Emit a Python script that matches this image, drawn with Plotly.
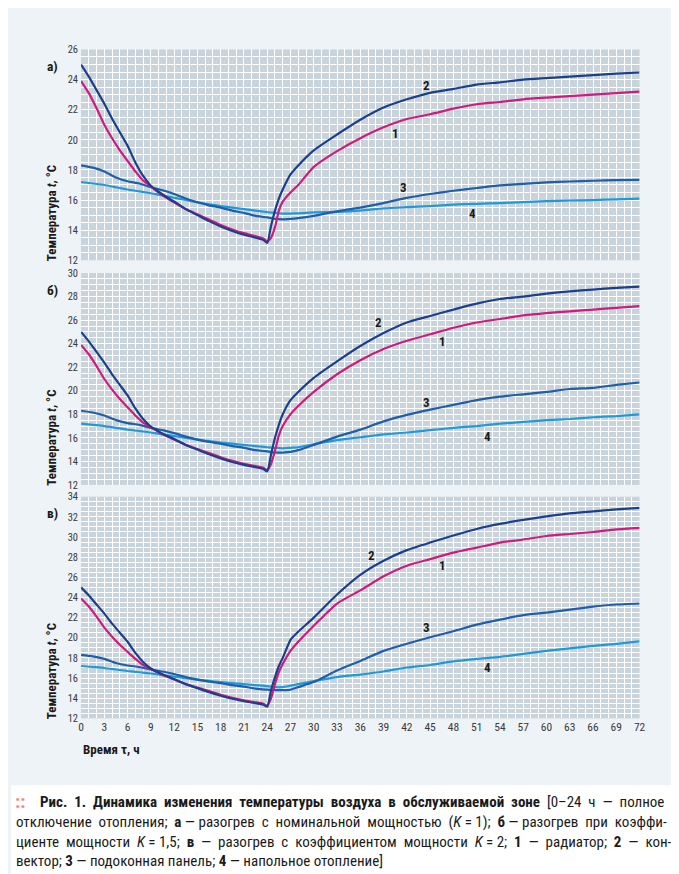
import plotly.graph_objects as go

W, H = 679, 874

# ---------------- data ----------------
# cooling phase (0–24 h), identical for all three panels
t_cool_fast = [0, 1, 2, 3, 4, 5, 6, 7, 8, 9, 10, 11, 12, 13.5, 15, 16.5, 18, 19.5, 21, 22.5, 23.5, 24]
cool_1 = [23.9, 23.1, 22.1, 21.0, 20.1, 19.3, 18.6, 17.9, 17.3, 16.9, 16.5, 16.15, 15.85, 15.4, 15.05, 14.7, 14.35, 14.05, 13.8, 13.6, 13.45, 13.25]
cool_2 = [25.0, 24.2, 23.3, 22.4, 21.4, 20.5, 19.6, 18.5, 17.6, 16.95, 16.55, 16.2, 15.9, 15.4, 15.0, 14.6, 14.25, 13.95, 13.7, 13.5, 13.35, 13.15]
t_cool_slow = [0, 1.5, 3, 4.5, 6, 7.5, 9, 10.5, 12, 13.5, 15, 16.5, 18, 19.5, 21, 22.5, 24]
cool_3 = [18.3, 18.15, 17.9, 17.5, 17.25, 17.1, 16.85, 16.65, 16.4, 16.1, 15.85, 15.65, 15.5, 15.3, 15.15, 14.95, 14.85]
cool_4 = [17.2, 17.1, 17.0, 16.85, 16.7, 16.58, 16.45, 16.3, 16.15, 16.0, 15.85, 15.72, 15.6, 15.5, 15.4, 15.3, 15.2]

# heating phase (after 24 h)
t_heat_fast = [24.5, 25, 25.5, 26, 27, 28, 30, 33, 36, 39, 42, 45, 48, 51, 54, 57, 60, 63, 66, 69, 72]
t_heat_slow = [25, 26, 27, 28, 30, 33, 36, 39, 42, 45, 48, 51, 54, 57, 60, 63, 66, 69, 72]

# panel а (K = 1)
a_heat_1 = [13.5, 14.2, 15.3, 15.9, 16.5, 17.0, 18.2, 19.25, 20.11, 20.83, 21.38, 21.7, 22.07, 22.36, 22.51, 22.69, 22.8, 22.9, 23.0, 23.1, 23.2]
a_heat_2 = [14.3, 15.3, 16.1, 16.7, 17.7, 18.3, 19.3, 20.35, 21.33, 22.14, 22.69, 23.12, 23.38, 23.67, 23.82, 24.0, 24.1, 24.2, 24.3, 24.4, 24.47]
a_heat_3 = [14.75, 14.72, 14.75, 14.8, 14.95, 15.25, 15.5, 15.8, 16.14, 16.4, 16.62, 16.8, 16.97, 17.08, 17.17, 17.23, 17.28, 17.32, 17.34]
a_heat_4 = [15.15, 15.1, 15.1, 15.12, 15.18, 15.22, 15.3, 15.45, 15.53, 15.6, 15.7, 15.75, 15.8, 15.86, 15.93, 15.97, 16.0, 16.05, 16.1]

# panel б (K = 1,5)
b_heat_1 = [13.8, 14.9, 16.2, 17.0, 18.0, 18.7, 19.9, 21.4, 22.6, 23.55, 24.25, 24.8, 25.35, 25.8, 26.1, 26.4, 26.6, 26.75, 26.9, 27.05, 27.2]
b_heat_2 = [14.6, 16.0, 17.1, 18.0, 19.2, 19.9, 21.1, 22.5, 23.8, 24.9, 25.8, 26.35, 26.9, 27.4, 27.8, 28.0, 28.25, 28.45, 28.6, 28.75, 28.85]
b_heat_3 = [14.75, 14.75, 14.8, 14.95, 15.4, 16.1, 16.7, 17.4, 17.95, 18.4, 18.8, 19.2, 19.5, 19.7, 19.9, 20.15, 20.25, 20.5, 20.7]
b_heat_4 = [15.15, 15.1, 15.15, 15.2, 15.45, 15.8, 16.05, 16.3, 16.45, 16.65, 16.85, 17.0, 17.2, 17.35, 17.5, 17.6, 17.75, 17.85, 18.0]

# panel в (K = 2)
c_heat_1 = [14.0, 15.4, 16.6, 17.4, 18.7, 19.6, 21.2, 23.4, 24.7, 26.1, 27.15, 27.8, 28.45, 28.95, 29.45, 29.75, 30.1, 30.3, 30.5, 30.75, 30.9]
c_heat_2 = [14.8, 16.1, 17.2, 18.0, 19.8, 20.6, 22.0, 24.3, 26.25, 27.65, 28.7, 29.45, 30.15, 30.8, 31.3, 31.7, 32.05, 32.35, 32.55, 32.75, 32.9]
c_heat_3 = [14.8, 14.8, 14.85, 15.1, 15.6, 16.75, 17.7, 18.7, 19.4, 20.05, 20.65, 21.3, 21.8, 22.25, 22.5, 22.8, 23.1, 23.3, 23.4]
c_heat_4 = [15.1, 15.1, 15.25, 15.4, 15.7, 16.1, 16.35, 16.65, 17.05, 17.3, 17.65, 17.9, 18.1, 18.4, 18.7, 18.95, 19.2, 19.4, 19.65]

panel_names = ["а)", "б)", "в)"]
y_ranges = [[12, 26], [12, 30], [12, 34]]
x_range = [0, 72]
x_title = "Время τ, ч"
y_title = "Температура <i>t</i>, °C"
series_labels = ["1", "2", "3", "4"]
label_pos = [  # (t, value) per series label, per panel
    [(40.5, 20.45), (44.5, 23.6), (41.6, 16.85), (50.5, 15.1)],
    [(46.6, 24.2), (38.4, 25.8), (44.5, 19.0), (52.4, 16.1)],
    [(46.6, 27.15), (37.5, 28.2), (44.5, 21.0), (52.4, 17.0)],
]

colors = ["#cf1a7e", "#1c3f8c", "#1f5ea8", "#1f9ad8"]

caption_lines = [
    "<b>Рис. 1. Динамика изменения температуры воздуха в обслуживаемой зоне</b> [0–24 ч — полное",
    "отключение отопления; <b>а</b> — разогрев с номинальной мощностью (<i>K</i> = 1); <b>б</b> — разогрев при коэффи-",
    "циенте мощности <i>K</i> = 1,5; <b>в</b> — разогрев с коэффициентом мощности <i>K</i> = 2; <b>1</b> — радиатор; <b>2</b> — кон-",
    "вектор; <b>3</b> — подоконная панель; <b>4</b> — напольное отопление]",
]
# tokens whose neighbouring gaps stay narrow when a caption line is widened
caption_tight = [("=",), ("=", "—"), ("=",), None]

# ---------------- layout helpers ----------------
def fx(px):
    return px / W

def fy(px):
    return 1 - px / H

def justify(line, tight):
    # widen word gaps (emulates justified typesetting)
    if tight is None:
        return line
    words = line.split(" ")
    out = words[0]
    for prev, word in zip(words[:-1], words[1:]):
        if prev in tight or word in tight:
            out += " " + word
        else:
            out += " \u00a0" + word
    return out

plot_left, plot_right = 71, 637
panel_px = [(36, 250), (263, 478), (490, 715)]

FONT = "Liberation Sans Narrow, Roboto Condensed, DejaVu Sans Condensed, Roboto, sans-serif"

fig = go.Figure()

heat = [
    (a_heat_1, a_heat_2, a_heat_3, a_heat_4),
    (b_heat_1, b_heat_2, b_heat_3, b_heat_4),
    (c_heat_1, c_heat_2, c_heat_3, c_heat_4),
]
cools = [cool_1, cool_2, cool_3, cool_4]

draw_order = [3, 2, 0, 1]
for p in range(3):
    ax = "" if p == 0 else str(p + 1)
    for s in draw_order:
        if s < 2:
            xs = t_cool_fast + t_heat_fast
        else:
            xs = t_cool_slow + t_heat_slow
        ys = cools[s] + list(heat[p][s])
        fig.add_trace(go.Scatter(
            x=xs, y=ys, mode="lines",
            line=dict(color=colors[s], width=2.2, shape="spline", smoothing=0.5),
            xaxis="x" + ax, yaxis="y" + ax, showlegend=False, hoverinfo="skip"))

annotations = []
layout = {}
for p in range(3):
    ax = "" if p == 0 else str(p + 1)
    top, bot = panel_px[p]
    layout["xaxis" + ax] = dict(
        domain=[fx(plot_left), fx(plot_right)], range=x_range, anchor="y" + ax,
        dtick=3, tick0=0, showgrid=True, gridcolor="white", gridwidth=1,
        minor=dict(dtick=1, showgrid=True, gridcolor="white", gridwidth=1),
        showticklabels=(p == 2), ticks="", zeroline=False, showline=False,
        tickfont=dict(family=FONT, size=11.5, color="#3a3a3a"),
        fixedrange=True)
    layout["yaxis" + ax] = dict(
        domain=[fy(bot), fy(top)], range=y_ranges[p], anchor="x" + ax,
        dtick=2, tick0=0, showgrid=True, gridcolor="white", gridwidth=1,
        minor=dict(dtick=0.5, showgrid=True, gridcolor="white", gridwidth=1),
        ticks="", zeroline=False, showline=False,
        tickfont=dict(family=FONT, size=10.5, color="#3a3a3a"),
        ticklabelstandoff=2,
        fixedrange=True)
    # panel letter
    annotations.append(dict(
        text="<b>" + panel_names[p] + "</b>", x=fx(42), y=fy(top + 17),
        xref="paper", yref="paper", xanchor="center", yanchor="middle",
        showarrow=False, font=dict(family=FONT, size=13.5, color="#1a1a1a")))
    # y title
    annotations.append(dict(
        text="<b>" + y_title + "</b>", x=fx(41), y=fy(bot + 3),
        xref="paper", yref="paper", xanchor="center", yanchor="bottom",
        textangle=-90, showarrow=False,
        font=dict(family=FONT, size=13, color="#1a1a1a")))
    # series labels
    for s in range(4):
        lx, ly = label_pos[p][s]
        annotations.append(dict(
            text="<b>" + series_labels[s] + "</b>", x=lx, y=ly,
            xref="x" + ax, yref="y" + ax, showarrow=False,
            xanchor="center", yanchor="middle",
            font=dict(family=FONT, size=13, color="#1a1a1a")))

# x title
annotations.append(dict(
    text="<b>" + x_title + "</b>", x=fx(71), y=fy(747),
    xref="paper", yref="paper", xanchor="left", yanchor="middle",
    showarrow=False, font=dict(family=FONT, size=13, color="#1a1a1a")))

cap_y = [800, 820, 840, 860]
annotations.append(dict(
    text="<b>::</b>", x=fx(2), y=fy(799), xref="paper", yref="paper",
    xanchor="left", yanchor="middle", showarrow=False,
    font=dict(family=FONT, size=19, color="#f08a7a")))
for i, line in enumerate(caption_lines):
    annotations.append(dict(
        text=justify(line, caption_tight[i]), x=fx(27 if i == 0 else 3), y=fy(cap_y[i]),
        xref="paper", yref="paper", xanchor="left", yanchor="middle",
        showarrow=False, font=dict(family=FONT, size=15, color="#1a1a1a")))

shapes = [
    dict(type="rect", xref="paper", yref="paper", x0=0, x1=1, y0=0, y1=fy(783),
         fillcolor="white", line=dict(width=0), layer="below"),
    dict(type="rect", xref="paper", yref="paper", x0=fx(672), x1=1, y0=0, y1=1,
         fillcolor="white", line=dict(width=0), layer="below"),
]

fig.update_layout(
    width=W, height=H, autosize=False,
    margin=dict(l=0, r=0, t=0, b=0),
    paper_bgcolor="#eef3f7", plot_bgcolor="#c9d3dc",
    annotations=annotations, shapes=shapes, **layout)

fig.write_html("out.html", config={"displayModeBar": False})
